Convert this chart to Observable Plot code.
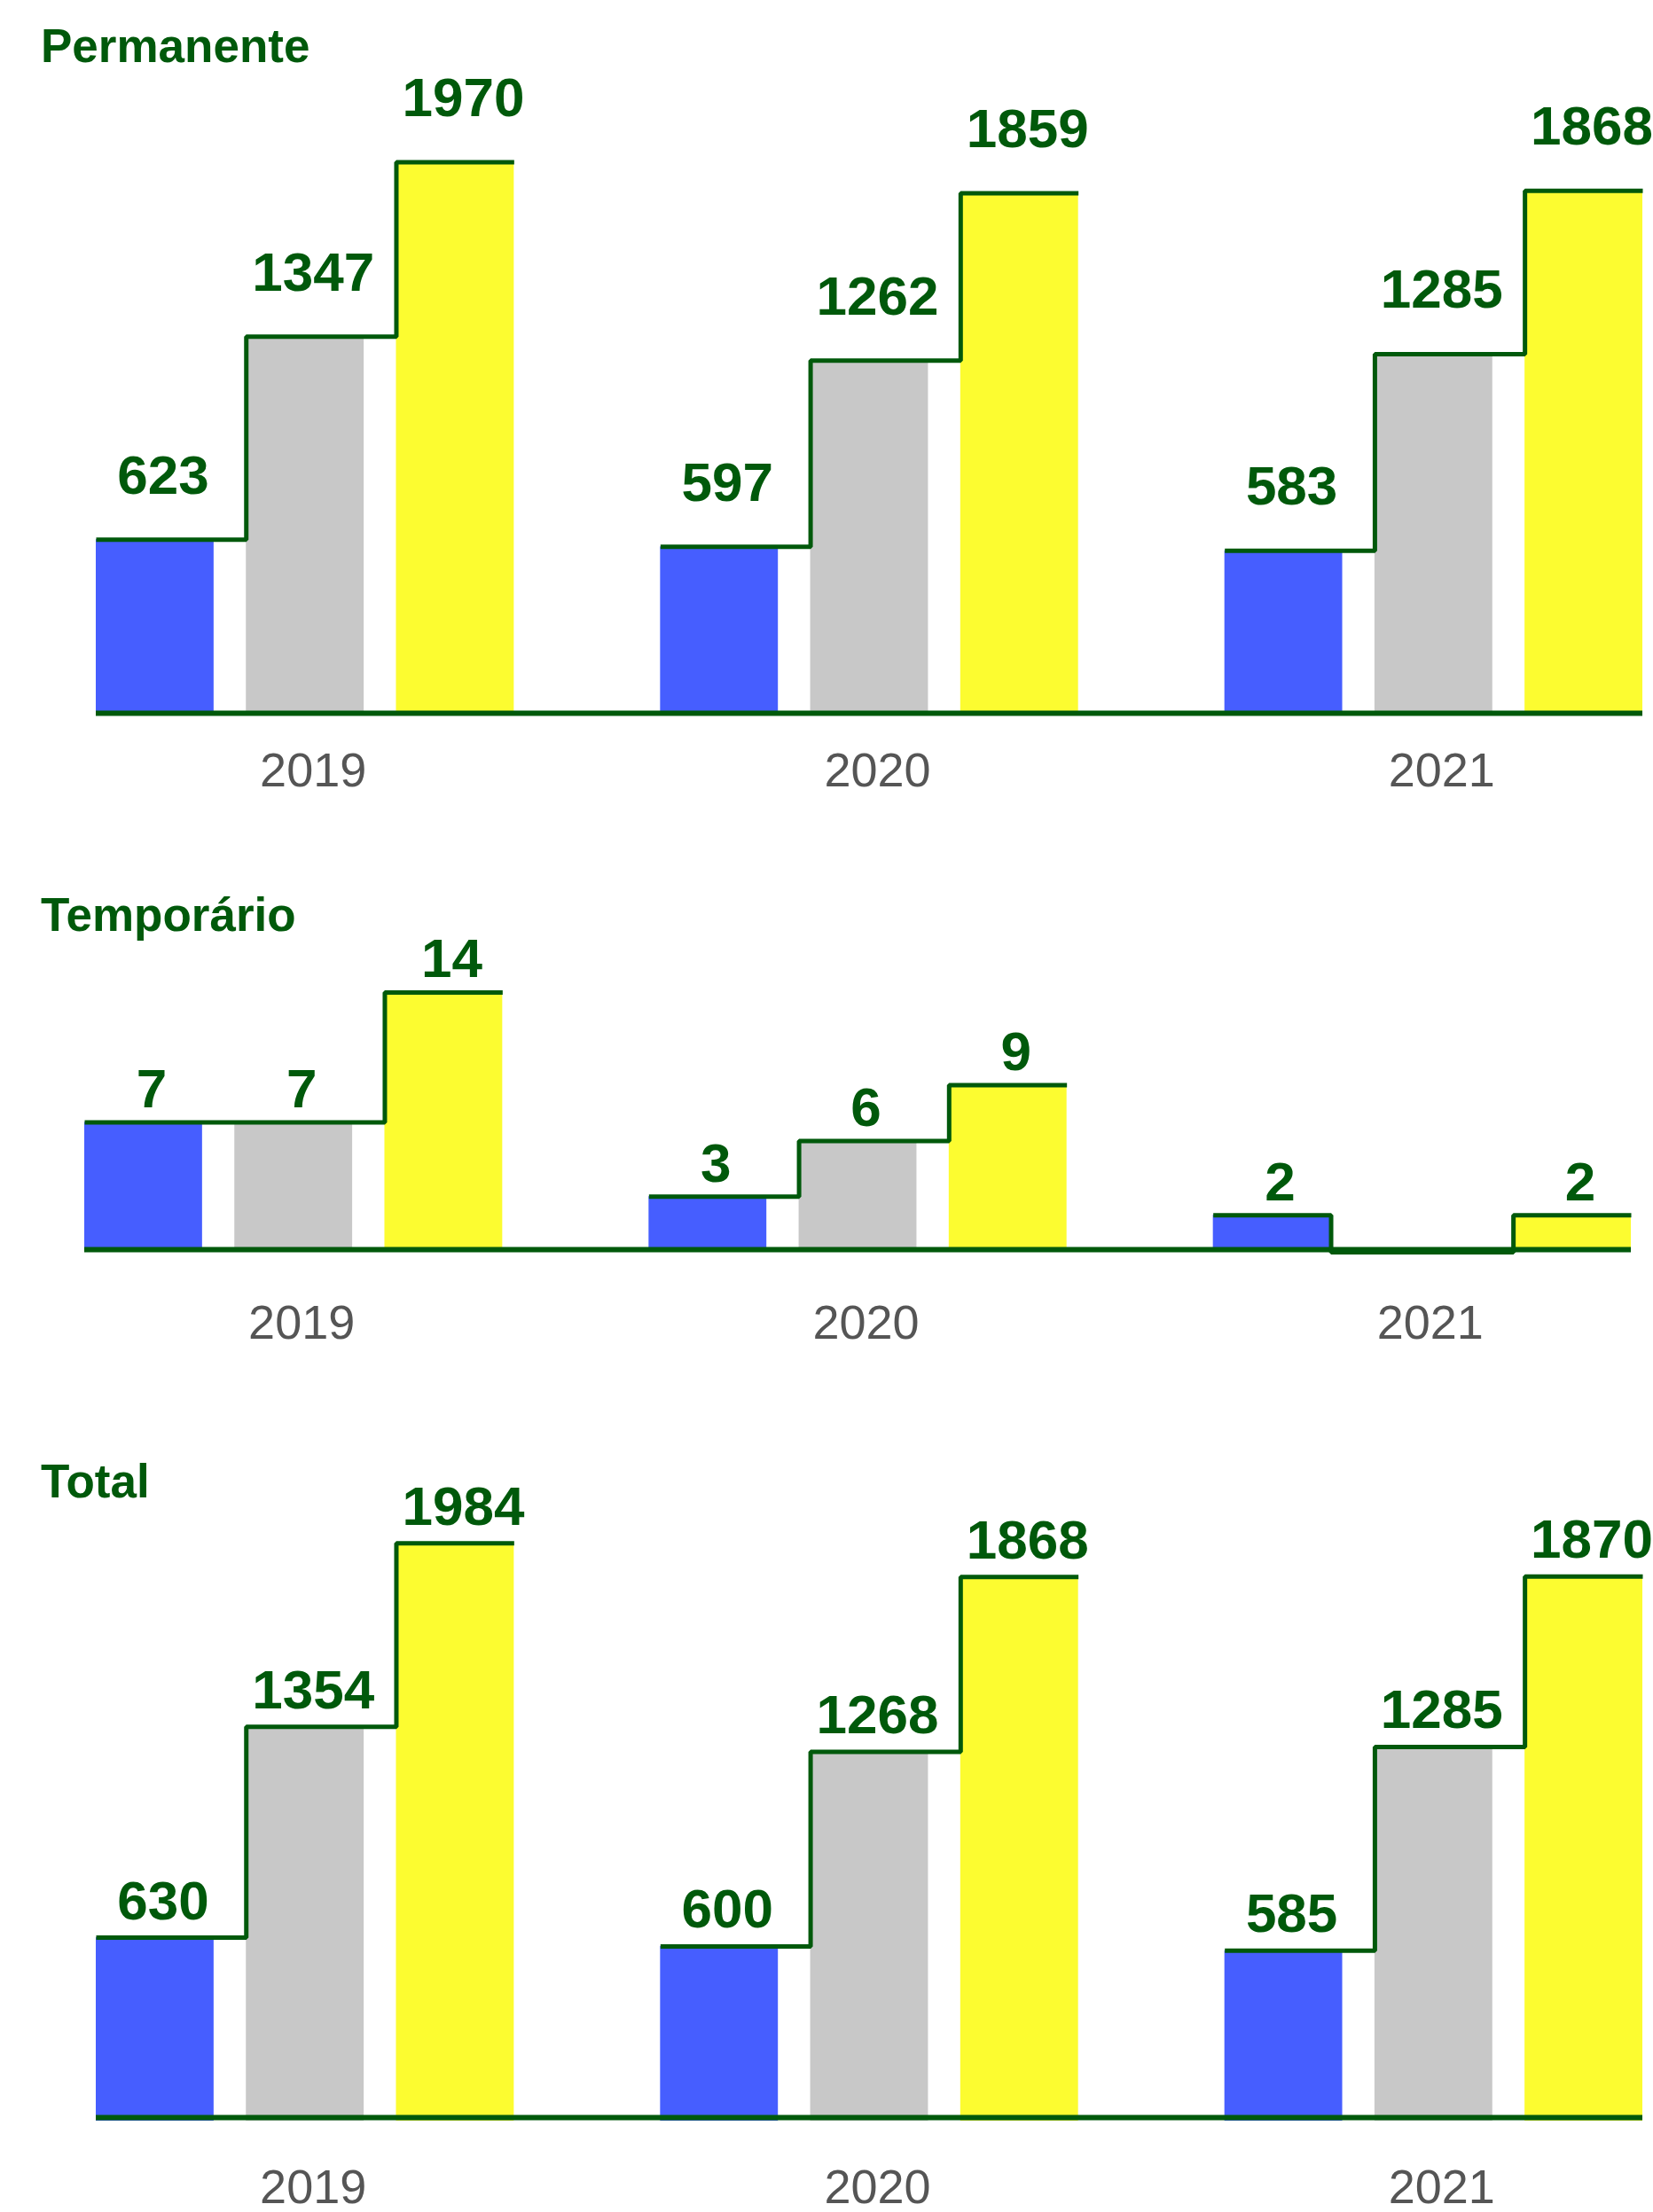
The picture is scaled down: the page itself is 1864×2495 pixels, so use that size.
<!DOCTYPE html>
<html>
<head>
<meta charset="utf-8">
<script src="https://cdn.jsdelivr.net/npm/d3@7"></script>
<script src="https://cdn.jsdelivr.net/npm/@observablehq/plot@0.6"></script>
<style>
  body { margin: 0; background: #ffffff; }
  #chart { position: relative; width: 1864px; height: 2495px; overflow: hidden;
           font-family: "Liberation Sans", Arial, Helvetica, sans-serif; }
  .title { position: absolute; left: 46px; margin: 0; font-size: 53px; line-height: 53px;
           font-weight: bold; color: #00590b; white-space: nowrap; }
  .panel { position: absolute; left: 0; }
</style>
</head>
<body>
<div id="chart"></div>
<script>
// ---- data ----
const years = ["2019", "2020", "2021"];
const series = ["Série 1", "Série 2", "Série 3"];          // blue, gray, yellow
const seriesColors = ["#465eff", "#c8c8c8", "#fcfc30"];
const permanente = [[623, 1347, 1970], [597, 1262, 1859], [583, 1285, 1868]];
const temporario = [[7, 7, 14], [3, 6, 9], [2, 0, 2]];
const total = [[630, 1354, 1984], [600, 1268, 1868], [585, 1285, 1870]];

// ---- style / layout constants ----
const GREEN = "#00590b";
const BAR_W = 0.785;      // bar width in slot units
const GROUP_STEP = 3.76;  // distance between groups in slot units
const X_MAX = GROUP_STEP * (years.length - 1) + (series.length - 1) + BAR_W;

const panels = [
  {title: "Permanente", values: permanente, titleTop: 25, top: 0, height: 930,
   marginLeft: 108, marginRight: 12, marginTop: 173, marginBottom: 125, yMax: 2000,
   labelDy: -52, tickPadding: 43, ruleDy: -1},
  {title: "Temporário", values: temporario, titleTop: 1005, top: 930, height: 600,
   marginLeft: 95, marginRight: 25, marginTop: 168, marginBottom: 118, yMax: 15,
   labelDy: -17, tickPadding: 59, ruleDy: -3},
  {title: "Total", values: total, titleTop: 1644, top: 1530, height: 965,
   marginLeft: 108, marginRight: 12, marginTop: 205, marginBottom: 103, yMax: 2000,
   labelDy: -21, tickPadding: 54, ruleDy: -4}
];

const chart = document.getElementById("chart");

for (const p of panels) {
  // bars
  const bars = [];
  p.values.forEach((vals, yi) => {
    vals.forEach((v, si) => {
      const x1 = yi * GROUP_STEP + si;
      bars.push({year: years[yi], series: series[si], value: v, x1, x2: x1 + BAR_W});
    });
  });
  // step outline per year group
  const steps = [];
  p.values.forEach((vals, yi) => {
    vals.forEach((v, si) => {
      const x1 = yi * GROUP_STEP + si, x2 = x1 + BAR_W;
      if (si > 0) steps.push({year: years[yi], x: x1, y: Math.min(vals[si - 1], v)});
      steps.push({year: years[yi], x: x1, y: v});
      steps.push({year: years[yi], x: x2, y: v});
      if (si < vals.length - 1) steps.push({year: years[yi], x: x2, y: Math.min(v, vals[si + 1])});
    });
  });
  const centers = years.map((y, yi) => yi * GROUP_STEP + ((series.length - 1) + BAR_W) / 2);

  const svg = Plot.plot({
    width: 1864,
    height: p.height,
    marginLeft: p.marginLeft,
    marginRight: p.marginRight,
    marginTop: p.marginTop,
    marginBottom: p.marginBottom,
    style: {fontFamily: "'Liberation Sans', Arial, Helvetica, sans-serif", background: "transparent", overflow: "visible"},
    x: {domain: [0, X_MAX]},
    y: {domain: [0, p.yMax], axis: null},
    color: {domain: series, range: seriesColors},
    marks: [
      Plot.rectY(bars, {x1: "x1", x2: "x2", y1: 0, y2: "value", fill: "series"}),
      Plot.ruleY([0], {stroke: GREEN, strokeWidth: 6, dy: p.ruleDy}),
      Plot.line(steps, {x: "x", y: "y", z: "year", stroke: GREEN, strokeWidth: 5,
                        strokeLinejoin: "miter", strokeLinecap: "butt"}),
      Plot.text(bars.filter(d => d.value !== 0), {
        x: d => (d.x1 + d.x2) / 2, y: "value", text: d => String(d.value),
        lineAnchor: "bottom", dy: p.labelDy, dx: 9,
        fontSize: 62, fontWeight: "bold", fill: GREEN
      }),
      Plot.axisX(centers, {
        tickSize: 0, tickPadding: p.tickPadding, label: null,
        tickFormat: d => years[centers.indexOf(d)],
        fontSize: 54, color: "#555555", dx: 9
      })
    ]
  });
  const wrap = document.createElement("div");
  wrap.className = "panel";
  wrap.style.top = p.top + "px";
  wrap.appendChild(svg);
  chart.appendChild(wrap);

  const t = document.createElement("div");
  t.className = "title";
  t.style.top = p.titleTop + "px";
  t.textContent = p.title;
  chart.appendChild(t);
}
</script>
</body>
</html>
